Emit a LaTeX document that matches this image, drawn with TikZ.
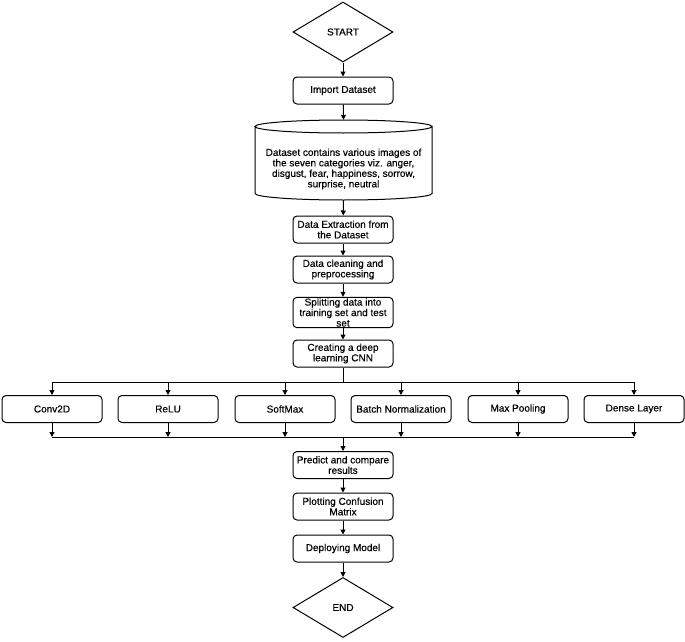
\documentclass[tikz,border=0pt]{standalone}
\usepackage{fontspec}
\setmainfont{Liberation Sans}[FakeBold=0.4]
\usetikzlibrary{shapes.geometric,arrows.meta}
\begin{document}
\begin{tikzpicture}[x=1pt,y=-1pt,
  every node/.style={font=\fontsize{10}{10.5}\selectfont, align=center},
  box/.style={draw, rounded corners=4pt, line width=1pt, minimum width=100pt, minimum height=27pt, inner sep=1pt},
  dia/.style={draw, diamond, aspect=1.667, line width=1pt, minimum width=100pt, minimum height=60pt, inner sep=0pt},
  arr/.style={-{Triangle[width=5pt,length=5pt]}, line width=1pt},
  ln/.style={line width=1pt}]
\useasboundingbox (0,0) rectangle (685,642);
\node[dia] (start) at (343,32) {START};
\node[box] (imp) at (343,90.5) {Import Dataset};
% cylinder
\node[minimum width=177pt, minimum height=80pt, inner sep=0pt] (cyl) at (343.5,160) {};
\draw[ln] (255,126.5) -- (255,193.5) arc[start angle=180, end angle=360, x radius=88.5, y radius=-6.5] -- (432,126.5)
  arc[start angle=0, end angle=360, x radius=88.5, y radius=6.5];
\node at (343.5,169) {Dataset contains various images of\\the seven categories viz. anger,\\disgust, fear, happiness, sorrow,\\surprise, neutral};
\node[box] (ext) at (343,229.5) {Data Extraction from\\the Dataset};
\node[box] (cln) at (343,269.5) {Data cleaning and\\preprocessing};
\node[box] (spl) at (343,312.5) {Splitting data into\\training set and test\\set};
\node[box] (cnn) at (343,353.5) {Creating a deep\\learning CNN};
\node[box] (b1) at (52,409) {Conv2D};
\node[box] (b2) at (168,409) {ReLU};
\node[box] (b3) at (285,409) {SoftMax};
\node[box] (b4) at (401,409) {Batch Normalization};
\node[box] (b5) at (518,409) {Max Pooling};
\node[box] (b6) at (634,409) {Dense Layer};
\node[box] (pre) at (343,465) {Predict and compare\\results};
\node[box] (plt) at (343,506.5) {Plotting Confusion\\Matrix};
\node[box] (dep) at (343,548.5) {Deploying Model};
\node[dia] (end) at (343,607.5) {END};
\coordinate (t) at (343,382);
\coordinate (bt) at (343,437);
\draw[arr] (start) -- (imp);
\draw[arr] (imp) -- (cyl.north);
\draw[arr] (cyl.south) -- (ext);
\draw[arr] (ext) -- (cln);
\draw[arr] (cln) -- (spl);
\draw[arr] (spl) -- (cnn);
\draw[ln] (cnn) -- (t);
\draw[ln] (b1.north |- t) -- (b6.north |- t);
\foreach \b in {b1,b2,b3,b4,b5,b6} {
  \draw[arr] (\b.north |- t) -- (\b.north);
  \draw[arr] (\b.south) -- (\b.south |- bt);
}
\draw[ln] (b1.south |- bt) -- (b6.south |- bt);
\draw[arr] (bt) -- (pre);
\draw[arr] (pre) -- (plt);
\draw[arr] (plt) -- (dep);
\draw[arr] (dep) -- (end);
\end{tikzpicture}
\end{document}
